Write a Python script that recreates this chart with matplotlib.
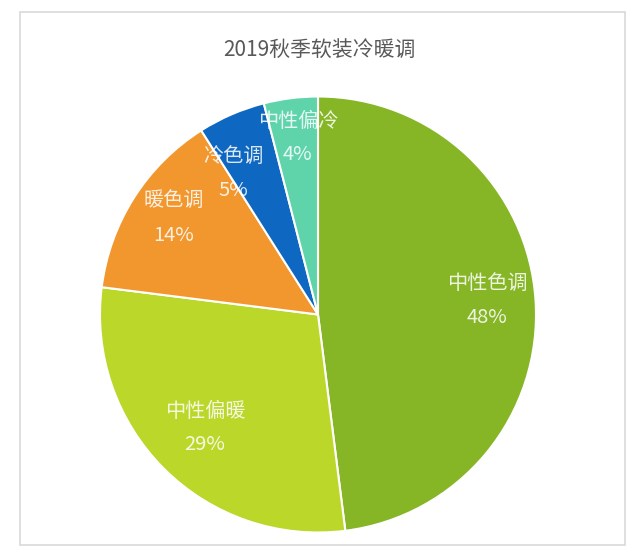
import numpy as np
import matplotlib
matplotlib.use('Agg')
import matplotlib.pyplot as plt
from matplotlib.patches import Rectangle

plt.rcParams['font.family'] = ['Noto Sans CJK SC', 'DejaVu Sans']

# Daten
categories = ['中性色调', '中性偏暖', '暖色调', '冷色调', '中性偏冷']
values = [48, 29, 14, 5, 4]
colors = ['#86b526', '#bbd72a', '#f1972e', '#0e67c0', '#5fd4ab']

# Beschriftungsposition (Abstand, Winkelversatz in Grad)
label_dist = [0.778, 0.735, 0.793, 0.753, 0.815]
label_shift = [1.0, 0.1, -1.2, 7.8, -0.7]

W, H = 640, 558
fig = plt.figure(figsize=(W / 100, H / 100), dpi=100)

# Rahmen
fig.patches.append(Rectangle((20 / W, 1 - 545 / H), 605 / W, 533 / H,
                             transform=fig.transFigure, fill=False,
                             edgecolor='#d9d9d9', linewidth=1.2))

cx, cy, r = 318, 314.5, 218
ax = fig.add_axes([(cx - r) / W, 1 - (cy + r) / H, 2 * r / W, 2 * r / H])
wedges, _ = ax.pie(values, colors=colors, startangle=90, counterclock=False,
                   radius=1, wedgeprops=dict(edgecolor='white', linewidth=1.5))
ax.set_xlim(-1, 1)
ax.set_ylim(-1, 1)
ax.set_aspect('equal')
ax.axis('off')

total = sum(values)
for w, cat, v, d, s in zip(wedges, categories, values, label_dist, label_shift):
    ang = np.deg2rad((w.theta1 + w.theta2) / 2 + s)
    x, y = d * np.cos(ang), d * np.sin(ang)
    ax.text(x, y, f'{cat}\n{round(100 * v / total)}%', ha='center', va='center',
            color='white', alpha=0.85, fontsize=14.5, linespacing=1.8,
            fontweight='light')

fig.text(319 / W, 1 - 50 / H, '2019秋季软装冷暖调', ha='center', va='center',
         fontsize=15, color='#595959', fontweight='light')

fig.savefig('out.png', dpi=100)
